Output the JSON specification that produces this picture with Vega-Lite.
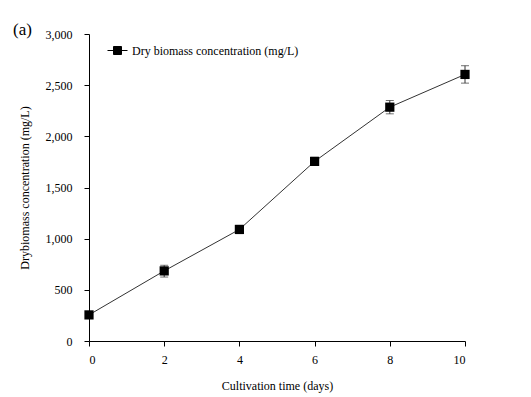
{
  "$schema": "https://vega.github.io/schema/vega-lite/v6.json",
  "width": 376,
  "height": 307,
  "autosize": {"type": "none"},
  "padding": {"left": 89, "top": 34, "right": 66, "bottom": 56},
  "background": "white",
  "title": {
    "text": "(a)",
    "anchor": "start",
    "frame": "group",
    "dx": -76,
    "dy": 11,
    "offset": 0,
    "font": "Liberation Serif",
    "fontSize": 17,
    "fontWeight": "normal",
    "color": "black"
  },
  "config": {
    "view": {"stroke": null},
    "font": "Liberation Serif",
    "axis": {
      "grid": false,
      "domainColor": "black",
      "tickColor": "black",
      "labelColor": "black",
      "titleColor": "black",
      "labelFont": "Liberation Serif",
      "titleFont": "Liberation Serif",
      "labelFontSize": 12,
      "titleFontSize": 12,
      "titleFontWeight": "normal",
      "tickSize": 5
    }
  },
  "data": {
    "values": [
      {"day": 0, "biomass": 255, "lo": 235, "hi": 275, "series": "Dry biomass concentration (mg/L)"},
      {"day": 2, "biomass": 685, "lo": 625, "hi": 740, "series": "Dry biomass concentration (mg/L)"},
      {"day": 4, "biomass": 1090, "lo": 1050, "hi": 1130, "series": "Dry biomass concentration (mg/L)"},
      {"day": 6, "biomass": 1755, "lo": 1715, "hi": 1795, "series": "Dry biomass concentration (mg/L)"},
      {"day": 8, "biomass": 2285, "lo": 2220, "hi": 2350, "series": "Dry biomass concentration (mg/L)"},
      {"day": 10, "biomass": 2605, "lo": 2520, "hi": 2690, "series": "Dry biomass concentration (mg/L)"}
    ]
  },
  "encoding": {
    "x": {
      "field": "day", "type": "quantitative",
      "scale": {"domain": [0, 10]},
      "axis": {"values": [0, 2, 4, 6, 8, 10], "title": "Cultivation time (days)", "labelPadding": 8, "titlePadding": 15}
    }
  },
  "layer": [
    {
      "mark": {"type": "line", "color": "#333333", "strokeWidth": 1},
      "encoding": {
        "y": {
          "field": "biomass", "type": "quantitative",
          "scale": {"domain": [0, 3000]},
          "axis": {"values": [0, 500, 1000, 1500, 2000, 2500, 3000], "format": ",.0f", "title": "Drybiomass concentration (mg/L)", "labelPadding": 12, "titlePadding": 14}
        }
      }
    },
    {
      "mark": {"type": "errorbar", "ticks": {"size": 8, "color": "#333333"}, "color": "#333333", "thickness": 1},
      "encoding": {
        "y": {
          "field": "lo", "type": "quantitative",
          "scale": {"domain": [0, 3000]},
          "axis": {"values": [0, 500, 1000, 1500, 2000, 2500, 3000], "format": ",.0f", "title": "Drybiomass concentration (mg/L)", "labelPadding": 12, "titlePadding": 14}
        },
        "y2": {"field": "hi"}
      }
    },
    {
      "mark": {"type": "point", "shape": "square", "filled": true, "size": 85, "opacity": 1},
      "encoding": {
        "y": {
          "field": "biomass", "type": "quantitative",
          "scale": {"domain": [0, 3000]},
          "axis": {"values": [0, 500, 1000, 1500, 2000, 2500, 3000], "format": ",.0f", "title": "Drybiomass concentration (mg/L)", "labelPadding": 12, "titlePadding": 14}
        },
        "color": {
          "field": "series", "type": "nominal",
          "scale": {"range": ["black"]},
          "legend": {
            "title": null,
            "orient": "none",
            "legendX": 18,
            "legendY": 6,
            "padding": 0,
            "symbolType": "M-1,0L1,0M-0.4,-0.4L0.4,-0.4L0.4,0.4L-0.4,0.4Z",
            "symbolSize": 400,
            "symbolStrokeWidth": 1,
            "symbolStrokeColor": "black",
            "symbolFillColor": "black",
            "symbolOpacity": 1,
            "labelFont": "Liberation Serif",
            "labelFontSize": 12,
            "labelColor": "black",
            "labelOffset": 4,
            "labelLimit": 400
          }
        }
      }
    }
  ]
}
